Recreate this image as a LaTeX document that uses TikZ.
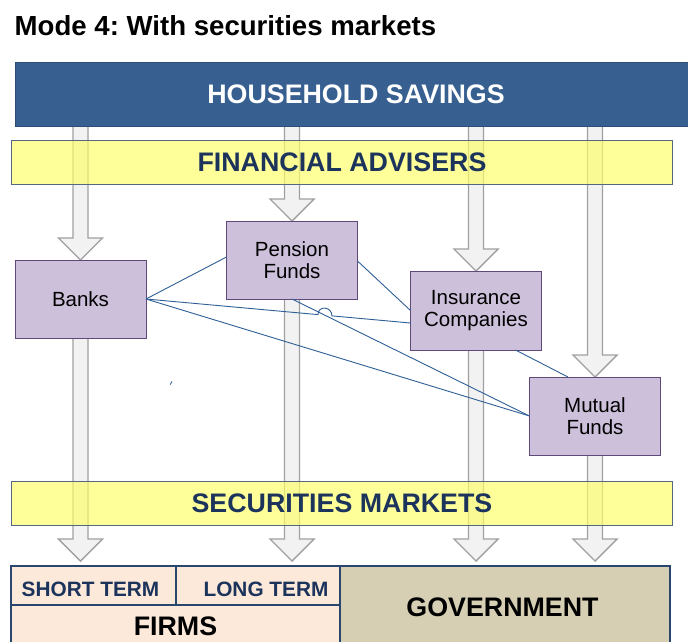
\documentclass[tikz,border=0pt]{standalone}
\usepackage{fontspec}
\setmainfont{Liberation Sans}
\usetikzlibrary{calc,intersections}
\definecolor{hhfill}{RGB}{55,96,145}
\definecolor{hhdraw}{RGB}{44,77,117}
\definecolor{yelfill}{RGB}{255,255,105}
\definecolor{yeldraw}{RGB}{84,104,132}
\definecolor{navytext}{RGB}{28,52,92}
\definecolor{purfill}{RGB}{204,192,218}
\definecolor{purdraw}{RGB}{96,73,122}
\definecolor{firmfill}{RGB}{253,233,217}
\definecolor{govfill}{RGB}{214,207,180}
\definecolor{cellline}{RGB}{40,70,110}
\definecolor{linkblue}{RGB}{46,95,150}
\definecolor{arrfill}{RGB}{242,242,242}
\definecolor{arrdraw}{RGB}{160,160,160}
\pgfdeclarelayer{back}
\pgfdeclarelayer{bg}
\pgfsetlayers{back,bg,main}
\frenchspacing
\tikzset{
  band/.style={draw=yeldraw, line width=1pt, fill=yelfill, fill opacity=0.68, text opacity=1,
    inner sep=0pt, outer sep=0pt, text=navytext, font=\fontsize{26.8}{30}\selectfont\bfseries},
  inst/.style={draw=purdraw, line width=1pt, fill=purfill, inner sep=0pt, outer sep=0pt,
    minimum width=131pt, minimum height=78pt, align=center, font=\fontsize{20.5}{22.5}\selectfont},
  cell/.style={draw=cellline, line width=1.3pt, inner sep=0pt, outer sep=0pt},
  celltext/.style={inner sep=0pt, text=navytext, font=\fontsize{20.8}{24}\selectfont\bfseries},
  bigtext/.style={inner sep=0pt, text=black, font=\fontsize{26.8}{30}\selectfont\bfseries},
  link/.style={draw=linkblue, line width=0.9pt},
  blockarr/.style={draw=arrdraw, line width=1.4pt, fill=arrfill, line join=miter}
}
\newcommand\blockarrow[2]{%
  \draw[blockarr] let \p1=(#1), \p2=(#2) in
    (\x2-7.5pt,\y1) -- (\x2-7.5pt,\y2+22pt) -- (\x2-22pt,\y2+22pt) -- (\x2,\y2)
    -- (\x2+22pt,\y2+22pt) -- (\x2+7.5pt,\y2+22pt) -- (\x2+7.5pt,\y1);}
\begin{document}
\begin{tikzpicture}[x=1pt,y=-1pt]
\clip (0,0) rectangle (688,641);
\begin{pgfonlayer}{back}
\fill[white] (0,0) rectangle (688,641);
\end{pgfonlayer}
% title
\node[anchor=base west, inner sep=0pt, font=\fontsize{27.6}{31}\selectfont\bfseries] (title) at (14.5,35) {Mode 4: With securities markets};
% household savings
\node[draw=hhdraw, line width=1pt, fill=hhfill, inner sep=0pt, outer sep=0pt,
  minimum width=682pt, minimum height=64pt, text=white,
  font=\fontsize{26.8}{30}\selectfont\bfseries] (hh) at (356,94) {HOUSEHOLD SAVINGS};
% bands
\node[band, minimum width=661pt, minimum height=44pt] (fa) at (342,162.5) {FINANCIAL ADVISERS};
\node[band, minimum width=661pt, minimum height=44pt] (sm) at (342,503) {SECURITIES MARKETS};
% institutions
\node[inst] (ban) at (80.5,299) {Banks};
\node[inst] (pen) at (292,260) {Pension\\Funds};
\node[inst, minimum height=79pt] (ins) at (476,310.5) {Insurance\\Companies};
\node[inst] (mut) at (595,416) {Mutual\\Funds};
% bottom cells
\node[cell, fill=firmfill, minimum width=165pt, minimum height=39pt] (short) at (93.5,585.5) {};
\node[cell, fill=firmfill, minimum width=164pt, minimum height=39pt] (long) at (258,585.5) {};
\node[cell, fill=firmfill, minimum width=329pt, minimum height=42pt] (firms) at (175.5,626) {};
\node[cell, fill=govfill, minimum width=330pt, minimum height=82pt] (gov) at (505,607) {};
\node[celltext] (shorttxt) at (90.5,589) {SHORT TERM};
\node[celltext] (longtxt) at (266,589) {LONG TERM};
\node[bigtext] (firmstxt) at (175.5,626) {FIRMS};
\node[bigtext] (govtxt) at (502.5,607.5) {GOVERNMENT};
% tip line for lower arrows
\coordinate (tipline) at (0,561);
% block arrows (background)
\begin{pgfonlayer}{bg}
\blockarrow{ban |- hh.south}{ban.north}
\blockarrow{pen |- hh.south}{pen.north}
\blockarrow{ins |- hh.south}{ins.north}
\blockarrow{mut |- hh.south}{mut.north}
\blockarrow{ban.south}{ban |- tipline}
\blockarrow{pen.south}{pen |- tipline}
\blockarrow{ins.south}{ins |- tipline}
\blockarrow{mut.south}{mut |- tipline}
\end{pgfonlayer}
% links
\draw[link] (ban.east) -- ([yshift=3pt]pen.west);
\draw[link] ([yshift=-1pt]pen.east) -- (ins.west);
\draw[link, name path=pm] (pen.south) -- (mut.west);
\draw[link] (ban.east) -- (mut.west);
\draw[link] ([xshift=-26pt]ins.south east) -- ([xshift=-27pt]mut.north);
\path[name path=bi] (ban.east) -- ([yshift=-12.5pt]ins.west);
\path[name intersections={of=bi and pm, by=hop}];
\coordinate (hopa) at ($(hop)!7pt!(ban.east)$);
\coordinate (hopb) at ($(hop)!7pt!([yshift=-12.5pt]ins.west)$);
\draw[link] (ban.east) -- (hopa) .. controls ($(hopa)+(0,-9.5)$) and ($(hopb)+(0,-9.5)$) .. (hopb) -- ([yshift=-12.5pt]ins.west);
% small stray mark
\coordinate (mk1) at (170.2,384.6);
\coordinate (mk2) at (172,381.4);
\draw[link, line width=0.8pt] (mk1) -- (mk2);
\end{tikzpicture}
\end{document}
